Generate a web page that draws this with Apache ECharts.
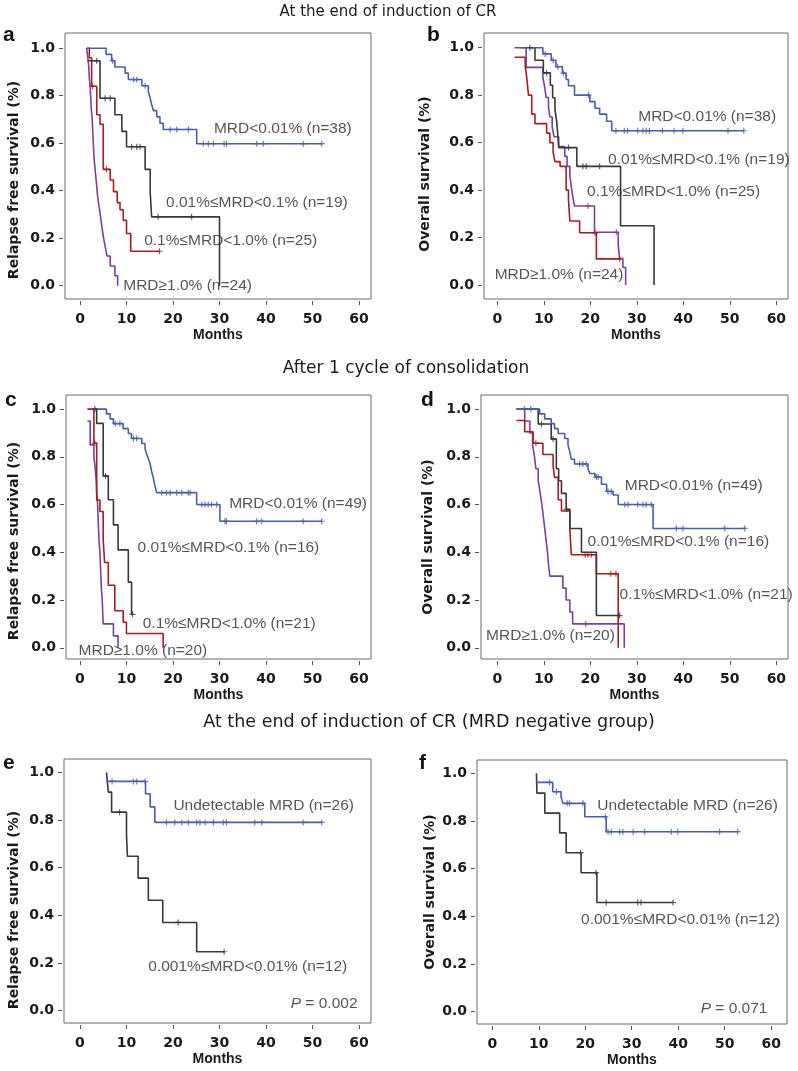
<!DOCTYPE html>
<html><head><meta charset="utf-8">
<script src="https://cdn.jsdelivr.net/npm/echarts@6/dist/echarts.min.js"></script>
<style>html,body{margin:0;padding:0;background:#fff}#c{width:798px;height:1071px}</style>
</head><body><div id="c"></div>
<script>
// ---------------- data ----------------
const monthTicks = [0, 10, 20, 30, 40, 50, 60];
const survTicks = [0, 0.2, 0.4, 0.6, 0.8, 1.0];
const sectionTitles = ['At the end of induction of CR', 'After 1 cycle of consolidation', 'At the end of induction of CR (MRD negative group)'];
const panelLetters = ['a', 'b', 'c', 'd', 'e', 'f'];
const yTitles = ['Relapse free survival (%)', 'Overall survival (%)', 'Relapse free survival (%)', 'Overall survival (%)', 'Relapse free survival (%)', 'Overall survival (%)'];
const xTitle = 'Months';

// panel a : RFS, end of induction
const aNoteText = ['MRD<0.01% (n=38)', '0.01%≤MRD<0.1% (n=19)', '0.1%≤MRD<1.0% (n=25)', 'MRD≥1.0% (n=24)'];
const aLow = [[1.6,1],[5.6,0.974],[6.8,0.947],[7.5,0.921],[9.7,0.895],[10.4,0.868],[13.3,0.842],[14.7,0.816],[15.1,0.789],[15.4,0.763],[15.8,0.737],[16.5,0.711],[17.2,0.684],[17.9,0.658],[25.1,0.598],[52.0,0.598]];
const aLowCens = [7.0,11.5,12.2,14.0,19.4,20.8,23.3,26.5,27.6,28.7,31.0,31.5,38.0,39.4,48.0,52.0];
const aMid = [[1.6,0.947],[4.3,0.789],[7.5,0.72],[9.0,0.65],[10.0,0.585],[14.0,0.49],[15.1,0.39],[15.4,0.29],[30.0,0]];
const aMidCens = [3.6,5.4,6.5,11.1,12.2,12.9,16.8,24.0];
const aHigh = [[1.4,1],[2.0,0.96],[2.5,0.84],[3.6,0.72],[4.3,0.68],[5.0,0.49],[6.5,0.445],[7.2,0.396],[8.0,0.35],[8.6,0.32],[9.3,0.275],[10.0,0.22],[10.9,0.145],[17.1,0.145]];
const aHighCens = [2.7,5.7,17.1];
const aTop = [[1.4,1],[1.7,0.958],[1.9,0.917],[2.0,0.875],[2.2,0.833],[2.3,0.792],[2.4,0.75],[2.6,0.708],[2.7,0.667],[2.8,0.625],[2.9,0.583],[3.0,0.542],[3.2,0.5],[3.4,0.458],[3.6,0.417],[3.8,0.375],[4.1,0.333],[4.4,0.292],[4.7,0.25],[5.0,0.208],[5.4,0.167],[5.8,0.125],[6.5,0.083],[7.5,0.042],[8.1,0]];
const aTopCens = [];

// panel b : OS, end of induction
const bNoteText = ['MRD<0.01% (n=38)', '0.01%≤MRD<0.1% (n=19)', '0.1%≤MRD<1.0% (n=25)', 'MRD≥1.0% (n=24)'];
const bLow = [[5.0,1],[9.8,0.974],[11.6,0.947],[12.6,0.92],[14.0,0.893],[14.8,0.866],[15.3,0.84],[16.6,0.8],[19.9,0.773],[21.0,0.745],[22.0,0.72],[23.5,0.69],[24.6,0.65],[53.0,0.65]];
const bLowCens = [10.3,12.0,13.0,14.2,19.6,25.5,27.3,28.0,30.2,31.3,32.0,32.7,35.5,38.0,39.9,49.6,53.0];
const bMid = [[7.0,1],[8.1,0.947],[9.9,0.894],[11.4,0.842],[11.9,0.789],[12.4,0.737],[12.8,0.684],[13.0,0.632],[13.2,0.579],[17.1,0.5],[26.5,0.25],[33.7,0]];
const bMidCens = [7.0,10.6,15.3,18.4,19.1,22.0];
const bHigh = [[3.7,0.96],[6.0,0.92],[6.3,0.88],[6.7,0.8],[7.4,0.72],[8.1,0.68],[10.6,0.64],[11.3,0.6],[12.0,0.56],[12.4,0.52],[13.5,0.5],[14.8,0.4],[15.3,0.36],[15.6,0.27],[17.7,0.22],[21.3,0.11],[26.3,0.11]];
const bHighCens = [21.0,26.3];
const bTop = [[3.7,1],[6.2,0.917],[9.8,0.875],[10.2,0.833],[10.5,0.79],[11.0,0.75],[11.3,0.708],[11.8,0.667],[12.2,0.625],[13.2,0.583],[14.5,0.542],[15.0,0.5],[15.6,0.458],[15.9,0.417],[16.2,0.375],[16.6,0.333],[20.9,0.222],[26.0,0.167],[26.3,0.111],[27.0,0.074],[27.6,0]];
const bTopCens = [19.5,25.6];

// panel c : RFS, after 1 cycle of consolidation
const cNoteText = ['MRD<0.01% (n=49)', '0.01%≤MRD<0.1% (n=16)', '0.1%≤MRD<1.0% (n=21)', 'MRD≥1.0% (n=20)'];
const cLow = [[2.9,1],[5.7,0.98],[6.5,0.959],[7.2,0.939],[9.3,0.918],[10.4,0.898],[11.1,0.877],[13.3,0.856],[14.0,0.835],[14.3,0.814],[14.7,0.793],[15.1,0.77],[15.4,0.74],[15.8,0.71],[16.1,0.68],[16.5,0.65],[25.1,0.6],[30.1,0.53],[52.0,0.53]];
const cLowCens = [7.6,8.6,11.5,12.2,17.6,18.6,19.4,20.8,21.9,23.3,23.7,26.2,26.9,27.6,28.3,29.4,31.2,31.5,38.0,39.1,48.0,52.0];
const cMid = [[2.9,1],[3.6,0.94],[5.0,0.72],[6.1,0.62],[7.2,0.515],[8.2,0.41],[10.4,0.275],[11.1,0.14],[11.3,0.14]];
const cMidCens = [3.2,5.5,11.3];
const cHigh = [[1.6,1],[3.0,0.857],[3.6,0.619],[4.3,0.571],[5.0,0.452],[5.3,0.357],[6.1,0.262],[7.5,0.155],[9.3,0.107],[10.0,0.06],[17.9,0]];
const cHighCens = [3.2];
const cTop = [[1.6,0.95],[2.2,0.85],[3.0,0.8],[3.3,0.75],[3.5,0.7],[3.6,0.65],[3.8,0.6],[3.9,0.55],[4.0,0.5],[4.1,0.45],[4.3,0.4],[4.4,0.35],[4.5,0.3],[4.6,0.25],[4.8,0.2],[4.9,0.15],[5.0,0.1],[7.2,0.05],[8.2,0]];
const cTopCens = [];

// panel d : OS, after 1 cycle of consolidation
const dNoteText = ['MRD<0.01% (n=49)', '0.01%≤MRD<0.1% (n=16)', '0.1%≤MRD<1.0% (n=21)', 'MRD≥1.0% (n=20)'];
const dLow = [[4.1,1],[9.1,0.98],[10.2,0.959],[11.6,0.939],[12.3,0.918],[13.1,0.898],[14.5,0.877],[15.2,0.85],[15.6,0.82],[15.9,0.79],[16.6,0.77],[19.5,0.75],[19.9,0.73],[21.0,0.715],[22.4,0.685],[23.5,0.655],[24.9,0.64],[26.0,0.6],[33.5,0.5],[53.2,0.5]];
const dLowCens = [5.8,7.2,17.7,18.4,19.1,21.3,21.7,23.8,24.5,27.4,28.1,30.2,31.3,32.0,33.1,38.5,39.9,48.9,53.2];
const dMid = [[5.9,1],[8.8,0.9375],[11.6,0.875],[12.7,0.75],[13.2,0.7],[13.8,0.647],[14.8,0.58],[15.6,0.5],[18.1,0.4],[21.3,0.135],[26.3,0.135]];
const dMidCens = [9.5,12.0,14.9,26.3];
const dHigh = [[4.1,0.952],[5.9,0.905],[7.7,0.857],[9.8,0.81],[12.0,0.762],[12.3,0.714],[13.1,0.62],[13.8,0.573],[15.6,0.5],[15.9,0.39],[21.3,0.31],[26.0,0]];
const dHighCens = [8.3,18.9,19.5,20.2,24.4,25.5];
const dTop = [[4.1,1],[5.9,0.95],[7.0,0.9],[7.6,0.85],[8.0,0.8],[8.3,0.75],[8.8,0.7],[9.2,0.65],[9.6,0.6],[9.9,0.55],[10.2,0.5],[10.5,0.45],[10.8,0.4],[11.0,0.35],[11.3,0.3],[14.1,0.25],[14.8,0.2],[15.6,0.15],[16.2,0.1],[27.3,0]];
const dTopCens = [19.0];

// panel e : RFS, MRD negative group
const eNoteText = ['Undetectable MRD (n=26)', '0.001%≤MRD<0.01% (n=12)', 'P = 0.002'];
const eUnd = [[5.7,0.962],[14.1,0.91],[15.1,0.855],[16.1,0.79],[52.0,0.79]];
const eUndCens = [6.9,11.5,12.2,14.0,18.6,20.4,21.9,23.3,25.1,25.8,26.9,28.7,30.8,31.5,37.6,39.1,48.0,52.0];
const eLowPos = [[5.7,1],[6.1,0.917],[6.8,0.833],[10.0,0.741],[10.2,0.648],[12.5,0.556],[14.7,0.463],[17.8,0.37],[25.1,0.247],[31.0,0.247]];
const eLowPosCens = [8.5,21.1,31.0];

// panel f : OS, MRD negative group
const fNoteText = ['Undetectable MRD (n=26)', '0.001%≤MRD<0.01% (n=12)', 'P = 0.071'];
const fUnd = [[9.5,0.962],[13.0,0.923],[14.8,0.9],[15.2,0.874],[19.9,0.818],[24.5,0.755],[52.8,0.755]];
const fUndCens = [12.3,13.8,16.1,16.6,19.5,24.3,24.9,25.6,27.4,28.1,30.3,32.8,38.5,39.9,48.9,52.8];
const fLowPos = [[9.5,1],[9.6,0.917],[11.3,0.833],[14.5,0.75],[15.9,0.667],[19.1,0.583],[22.5,0.458],[38.9,0.458]];
const fLowPosCens = [19.0,22.3,24.5,31.3,32.0,38.9];

// ---------------- layout & style ----------------
const COL = { blue: '#4a5daa', black: '#383838', red: '#a31d22', purple: '#7b3f9e' };
const PLUS = 'path://M2,0H3V2H5V3H3V5H2V3H0V2H2Z';
const layout = [
  { grid: { left: 65, top: 33, width: 306, height: 266 }, x: [-3.23, 62.58], y: [-0.056, 1.064],
    notes: [[28.8, 0.66, 'r'], [18.5, 0.35, 'r'], [13.8, 0.19, 'r'], [9.3, 0.0, 'r']], yTitle: [14, 180], letter: [3, 35] },
  { grid: { left: 484, top: 33, width: 304, height: 266 }, x: [-2.86, 62.5], y: [-0.059, 1.062],
    notes: [[30.3, 0.708, 'r'], [23.8, 0.53, 'r'], [19.3, 0.393, 'r'], [-0.56, 0.042, 'r']], yTitle: [425, 174], letter: [427, 35] },
  { grid: { left: 66, top: 395, width: 305, height: 264 }, x: [-3.0, 62.6], y: [-0.047, 1.059],
    notes: [[32.1, 0.605, 'r'], [12.4, 0.419, 'r'], [13.5, 0.1, 'r'], [-0.3, -0.012, 'r']], yTitle: [14, 541], letter: [5, 400] },
  { grid: { left: 481, top: 395, width: 307, height: 264 }, x: [-3.5, 62.5], y: [-0.047, 1.059],
    notes: [[27.4, 0.68, 'r'], [19.4, 0.444, 'r'], [26.3, 0.224, 'r'], [-2.4, 0.05, 'r']], yTitle: [428, 537], letter: [421, 400] },
  { grid: { left: 64, top: 759, width: 307, height: 264 }, x: [-3.44, 62.6], y: [-0.052, 1.056],
    notes: [[20.1, 0.859, 'r'], [14.7, 0.185, 'r'], [59.7, 0.028, 'l']], yTitle: [14, 910], letter: [3, 763] },
  { grid: { left: 477, top: 760, width: 310, height: 264 }, x: [-3.29, 63.4], y: [-0.052, 1.056],
    notes: [[22.6, 0.863, 'r'], [19.1, 0.385, 'r'], [59.2, 0.014, 'l']], yTitle: [430, 892], letter: [419, 763] }
];
const titleLayout = [[388, 12, 15], [406, 369, 17], [429, 722, 17.5]];

const panelData = [
  { notes: aNoteText, curves: [[aTop, aTopCens, COL.purple], [aHigh, aHighCens, COL.red], [aMid, aMidCens, COL.black], [aLow, aLowCens, COL.blue]] },
  { notes: bNoteText, curves: [[bTop, bTopCens, COL.purple], [bHigh, bHighCens, COL.red], [bMid, bMidCens, COL.black], [bLow, bLowCens, COL.blue]] },
  { notes: cNoteText, curves: [[cTop, cTopCens, COL.purple], [cHigh, cHighCens, COL.red], [cMid, cMidCens, COL.black], [cLow, cLowCens, COL.blue]] },
  { notes: dNoteText, curves: [[dTop, dTopCens, COL.purple], [dHigh, dHighCens, COL.red], [dMid, dMidCens, COL.black], [dLow, dLowCens, COL.blue]] },
  { notes: eNoteText, curves: [[eLowPos, eLowPosCens, COL.black], [eUnd, eUndCens, COL.blue]] },
  { notes: fNoteText, curves: [[fLowPos, fLowPosCens, COL.black], [fUnd, fUndCens, COL.blue]] }
];

function survAt(curve, t) {
  let s = curve[0][1];
  for (const [x, y] of curve) { if (x <= t) s = y; }
  return s;
}

const grids = [], xAxes = [], yAxes = [], series = [], graphics = [];
layout.forEach((L, i) => {
  grids.push(Object.assign({ show: true, borderColor: '#6a6a6a', borderWidth: 1, backgroundColor: 'transparent', containLabel: false, outerBoundsMode: 'none' }, L.grid));
  xAxes.push({
    type: 'value', gridIndex: i, min: L.x[0], max: L.x[1], offset: 2, position: 'bottom',
    splitLine: { show: false }, axisLine: { show: false, onZero: false },
    axisTick: { show: true, length: 4, customValues: monthTicks, lineStyle: { color: '#555', width: 1 } },
    axisLabel: { customValues: monthTicks, margin: 11, fontFamily: 'DejaVu Sans', fontWeight: 'bold', fontSize: 14, color: '#1a1a1a' },
    name: xTitle, nameLocation: 'middle', nameGap: 27,
    nameTextStyle: { fontFamily: 'Liberation Sans', fontWeight: 'bold', fontSize: 14, color: '#1a1a1a' }
  });
  yAxes.push({
    type: 'value', gridIndex: i, min: L.y[0], max: L.y[1], offset: 2, position: 'left',
    splitLine: { show: false }, axisLine: { show: false, onZero: false },
    axisTick: { show: true, length: 4, customValues: survTicks, lineStyle: { color: '#555', width: 1 } },
    axisLabel: { customValues: survTicks, margin: 8, formatter: v => v.toFixed(1), fontFamily: 'DejaVu Sans', fontWeight: 'bold', fontSize: 14, color: '#1a1a1a' }
  });
  const P = panelData[i];
  P.curves.forEach(([curve, cens, color]) => {
    series.push({ type: 'line', xAxisIndex: i, yAxisIndex: i, data: curve, step: 'end', symbol: 'none', showSymbol: false,
      lineStyle: { color: color, width: 1.6 }, z: 2, silent: true });
    if (cens.length) series.push({ type: 'scatter', xAxisIndex: i, yAxisIndex: i, data: cens.map(t => [t, survAt(curve, t)]),
      symbol: PLUS, symbolSize: 6, itemStyle: { color: color }, z: 3, silent: true });
  });
  series.push({
    type: 'scatter', xAxisIndex: i, yAxisIndex: i, symbolSize: 0, z: 5, silent: true,
    itemStyle: { color: 'transparent' },
    data: P.notes.map((txt, k) => ({ value: [L.notes[k][0], L.notes[k][1]], name: txt,
      label: { position: L.notes[k][2] === 'l' ? 'left' : 'right' } })),
    label: { show: true, distance: 0, color: '#2a2a2a', fontFamily: 'Liberation Sans', fontSize: 15.5,
      formatter: p => p.name.startsWith('P =') ? '{p|P}' + p.name.slice(1) : p.name,
      rich: { p: { fontStyle: 'italic', fontFamily: 'Liberation Sans', fontSize: 15.5, color: '#2a2a2a' } } }
  });
  graphics.push({ type: 'text', x: L.letter[0], y: L.letter[1], style: { text: panelLetters[i], fontFamily: 'Liberation Sans', fontWeight: 'bold', fontSize: 21, fill: '#111', align: 'left', verticalAlign: 'middle' } });
  graphics.push({ type: 'text', x: L.yTitle[0], y: L.yTitle[1], rotation: Math.PI / 2, style: { text: yTitles[i], fontFamily: 'DejaVu Sans', fontWeight: 'bold', fontSize: 14, fill: '#1a1a1a', align: 'center', verticalAlign: 'middle' } });
});
sectionTitles.forEach((t, k) => {
  const T = titleLayout[k];
  graphics.push({ type: 'text', x: T[0], y: T[1], style: { text: t, fontFamily: 'DejaVu Sans', fontSize: T[2], fill: '#1a1a1a', align: 'center', verticalAlign: 'middle' } });
});

const chart = echarts.init(document.getElementById('c'), null, { renderer: 'canvas' });
chart.setOption({
  backgroundColor: '#ffffff', animation: false,
  grid: grids, xAxis: xAxes, yAxis: yAxes, series: series, graphic: graphics
});
</script></body></html>
